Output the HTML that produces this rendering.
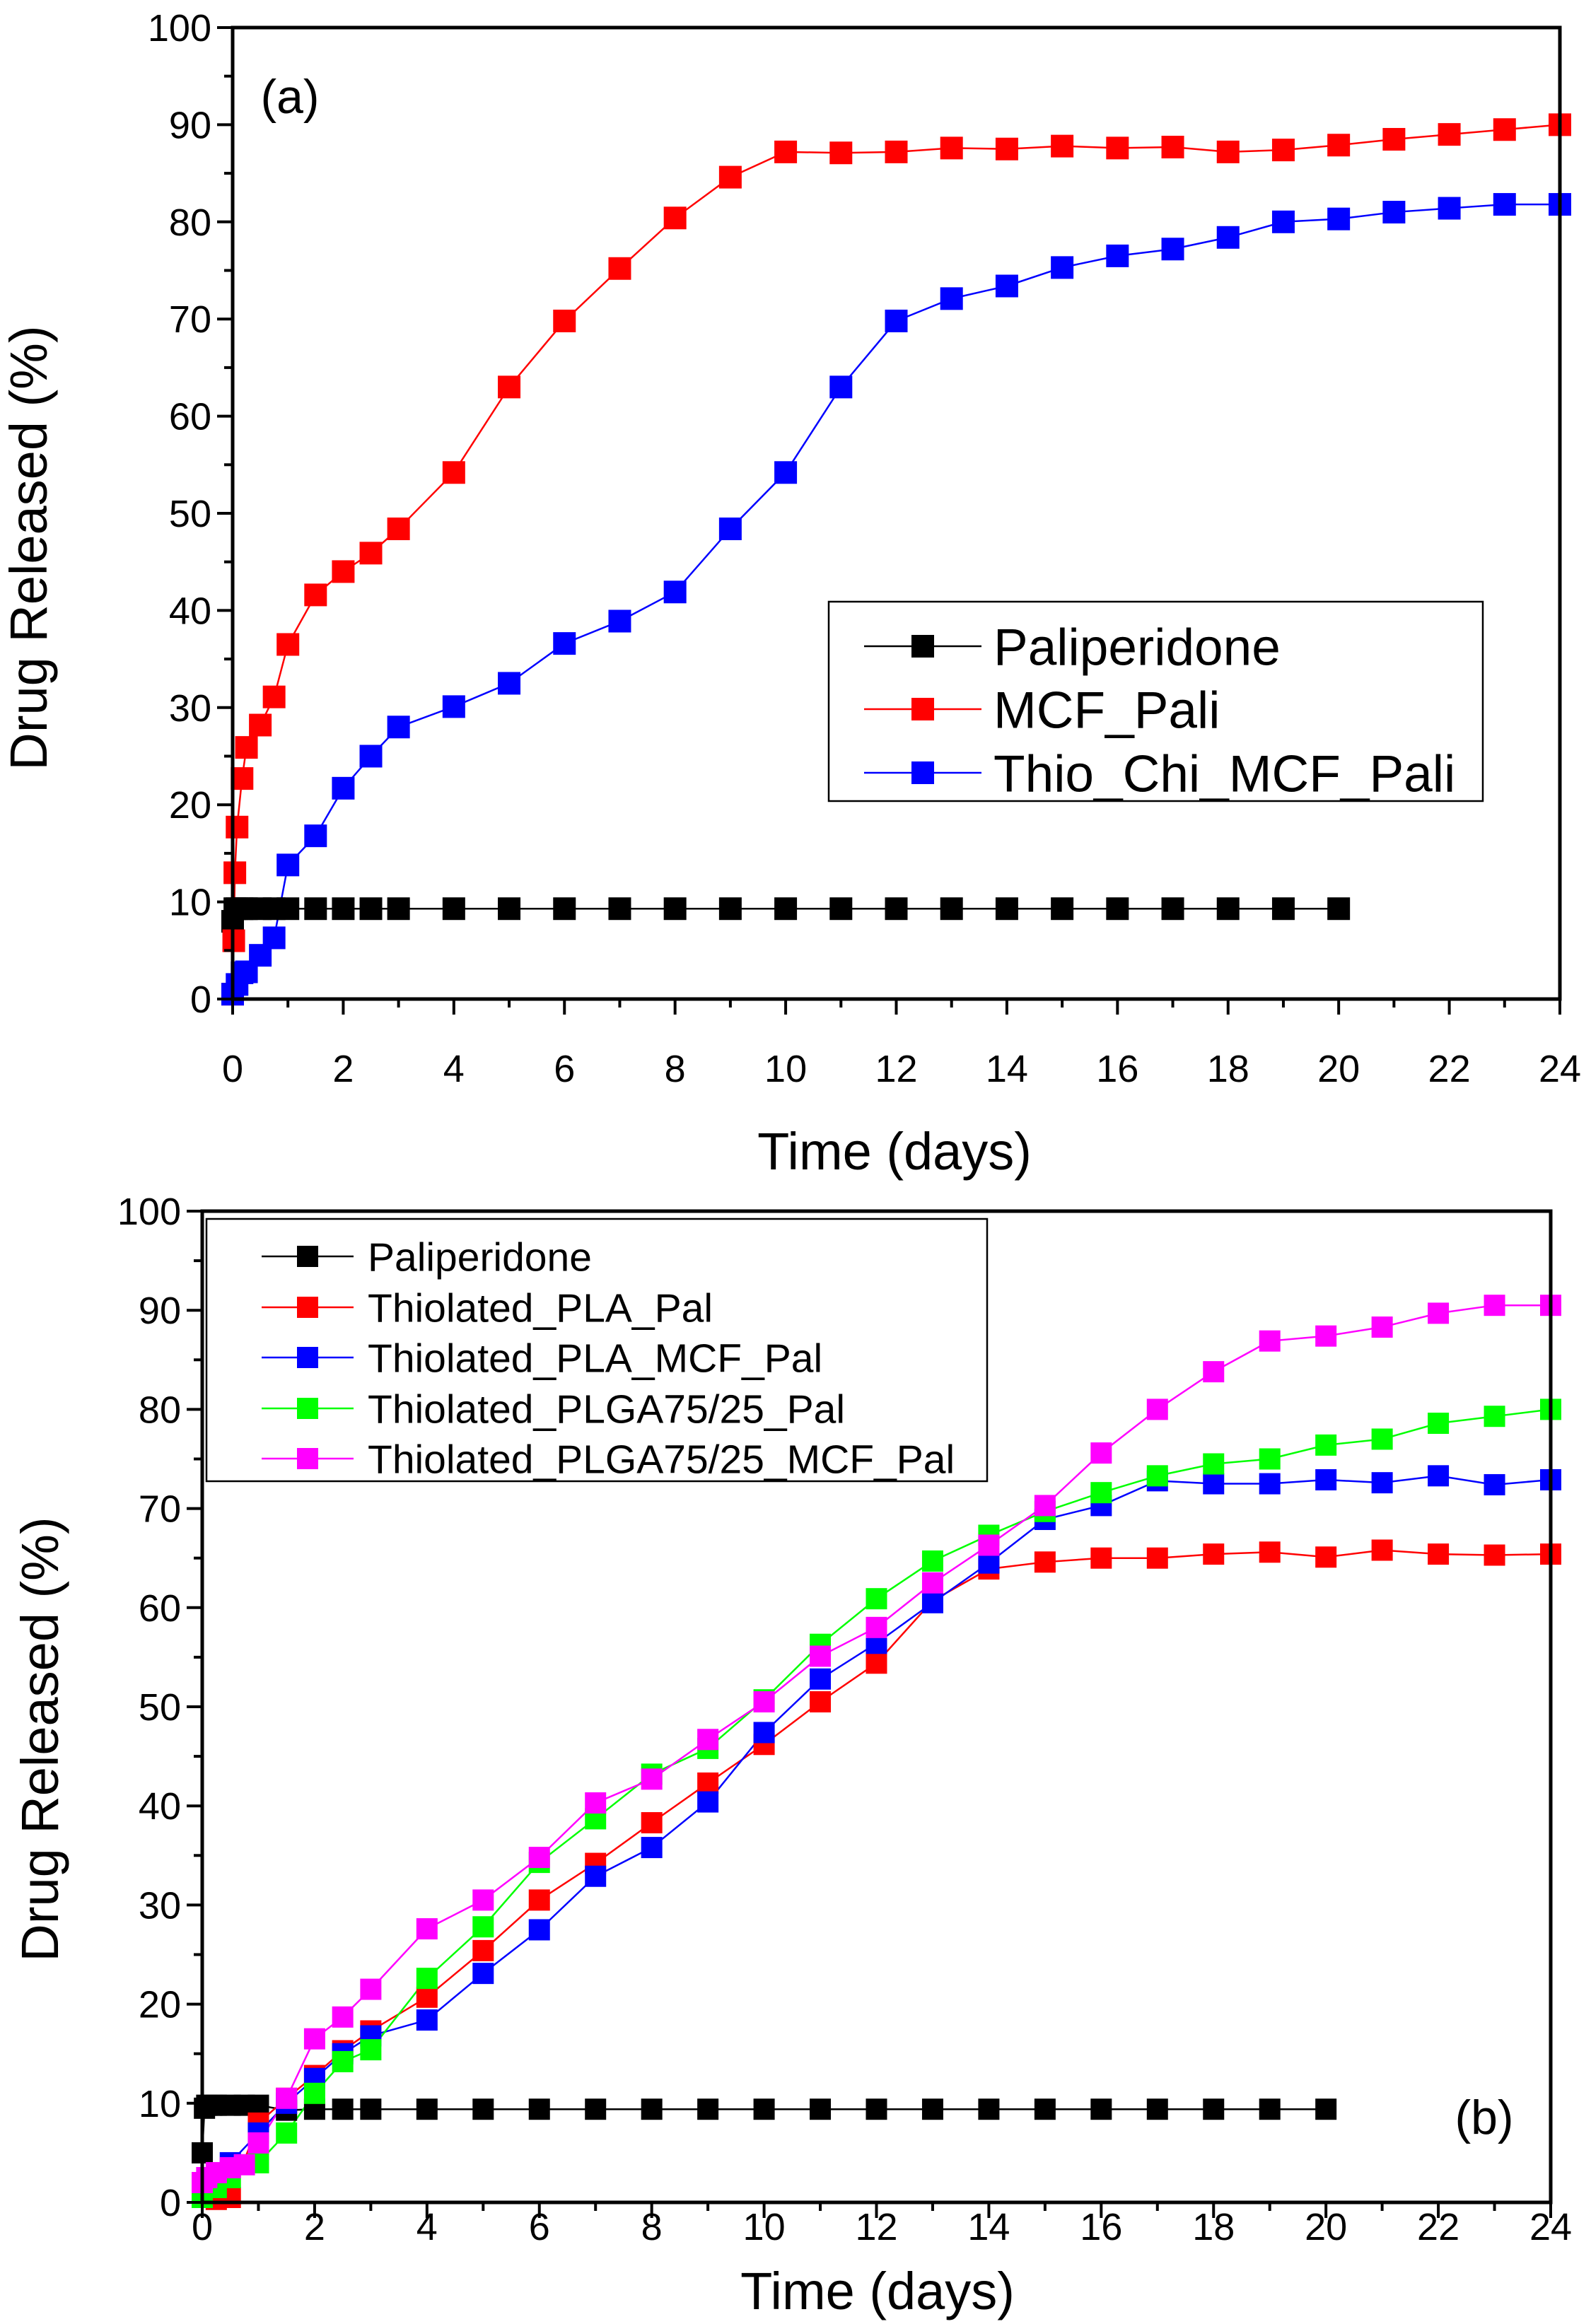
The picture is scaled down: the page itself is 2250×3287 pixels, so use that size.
<!DOCTYPE html>
<html><head><meta charset="utf-8"><style>
html,body{margin:0;padding:0;background:#fff;}
svg{display:block;}
text{font-family:"Liberation Sans",Arial,sans-serif;fill:#000;}
</style></head><body>
<svg id="s" width="2250" height="3287" xmlns="http://www.w3.org/2000/svg"></svg>
<script>
const S=document.getElementById('s');let h='';
function panel(P){
 const X=v=>P.l+(P.r-P.l)*v/24, Y=v=>P.b-(P.b-P.t)*v/100;
 P.series.forEach(s=>{
  h+=`<polyline fill="none" stroke="${s.c}" stroke-width="2.5" points="${s.d.map(p=>X(p[0])+','+Y(p[1])).join(' ')}"/>`;
 });
 P.series.forEach(s=>{
  s.d.forEach(p=>{h+=`<rect x="${X(p[0])-P.m/2}" y="${Y(p[1])-P.m/2}" width="${P.m}" height="${P.m}" fill="${s.c}"/>`;});
 });
 h+=`<rect x="${P.l}" y="${P.t}" width="${P.r-P.l}" height="${P.b-P.t}" fill="none" stroke="#000" stroke-width="5"/>`;
 for(let v=0;v<=100;v+=5){const y=Y(v);const L=v%10==0?22:12;h+=`<line x1="${P.l-L}" x2="${P.l}" y1="${y}" y2="${y}" stroke="#000" stroke-width="4"/>`;
  if(v%10==0)h+=`<text x="${P.l-30}" y="${y+19}" font-size="54" text-anchor="end">${v}</text>`;}
 for(let v=0;v<=24;v+=1){const x=X(v);const L=v%2==0?22:12;h+=`<line x1="${x}" x2="${x}" y1="${P.b}" y2="${P.b+L}" stroke="#000" stroke-width="4"/>`;
  if(v%2==0)h+=`<text x="${x}" y="${P.xly}" font-size="54" text-anchor="middle">${v}</text>`;}
 h+=`<text x="${P.xtx}" y="${P.xty}" font-size="74" text-anchor="middle">Time (days)</text>`;
 h+=`<text transform="translate(${P.ytx},${P.yty}) rotate(-90)" font-size="74" text-anchor="middle">Drug Released (%)</text>`;
 h+=`<text x="${P.lab[0]}" y="${P.lab[1]}" font-size="68" text-anchor="middle">${P.lab[2]}</text>`;
 const G=P.leg;h+=`<rect x="${G.x}" y="${G.y}" width="${G.w}" height="${G.h}" fill="#fff" stroke="#000" stroke-width="2.5"/>`;
 P.series.forEach((s,i)=>{const y=G.ys[i];
  h+=`<line x1="${G.l1}" x2="${G.l2}" y1="${y}" y2="${y}" stroke="${s.c}" stroke-width="2.5"/><rect x="${(G.l1+G.l2)/2-P.m/2}" y="${y-P.m/2}" width="${P.m}" height="${P.m}" fill="${s.c}"/>`;
  h+=`<text x="${G.tx}" y="${y+G.fs*0.36}" font-size="${G.fs}">${s.n}</text>`;});
}
const blackA=[[0,8],[0.04,9.3],[0.08,9.3],[0.17,9.3],[0.25,9.3],[0.5,9.3],[0.75,9.3],[1,9.3],[1.5,9.3],[2,9.3],[2.5,9.3],[3,9.3]];for(let i=4;i<=20;i++)blackA.push([i,9.3]);
panel({l:329,r:2206,t:39,b:1413,m:32,xly:1530,xtx:1265,xty:1654,ytx:66,yty:775,lab:[410,160,'(a)'],
 leg:{x:1172,y:851,w:925,h:282,ys:[914,1003,1093],l1:1222,l2:1388,tx:1405,fs:73},
 series:[
 {n:'Paliperidone',c:'#000',d:blackA},
 {n:'MCF_Pali',c:'#f00',d:[[0,0.5],[0.02,6],[0.04,13],[0.08,17.7],[0.17,22.7],[0.25,25.9],[0.5,28.2],[0.75,31.1],[1,36.5],[1.5,41.6],[2,44],[2.5,45.9],[3,48.4],[4,54.2],[5,63],[6,69.8],[7,75.2],[8,80.4],[9,84.6],[10,87.2],[11,87.1],[12,87.2],[13,87.6],[14,87.5],[15,87.8],[16,87.6],[17,87.7],[18,87.2],[19,87.4],[20,87.9],[21,88.5],[22,89],[23,89.5],[24,90]]},
 {n:'Thio_Chi_MCF_Pali',c:'#00f',d:[[0,0.5],[0.08,1.5],[0.17,2.7],[0.25,2.8],[0.5,4.5],[0.75,6.3],[1,13.8],[1.5,16.8],[2,21.7],[2.5,25],[3,28],[4,30.1],[5,32.5],[6,36.6],[7,38.9],[8,41.9],[9,48.4],[10,54.2],[11,63],[12,69.8],[13,72.1],[14,73.4],[15,75.3],[16,76.5],[17,77.2],[18,78.4],[19,80],[20,80.3],[21,81],[22,81.4],[23,81.8],[24,81.8]]}
 ]});
const blackB=[[0,5],[0.04,9.5],[0.08,9.8],[0.17,9.8],[0.25,9.8],[0.5,9.8],[0.75,9.8],[1,9.8],[1.5,9.3],[2,9.4],[2.5,9.4],[3,9.4]];for(let i=4;i<=20;i++)blackB.push([i,9.4]);
panel({l:286,r:2193,t:1713,b:3115,m:30,xly:3168,xtx:1241,xty:3266,ytx:82,yty:2460,lab:[2099,3018,'(b)'],
 leg:{x:292,y:1724,w:1104,h:371,ys:[1777,1849,1920,1992,2063],l1:370,l2:500,tx:520,fs:57},
 series:[
 {n:'Paliperidone',c:'#000',d:blackB},
 {n:'Thiolated_PLA_Pal',c:'#f00',d:[[0,0.5],[0.25,0.3],[0.5,0.5],[1,8],[1.5,10.5],[2,12.8],[2.5,15.3],[3,17.3],[4,20.7],[5,25.4],[6,30.5],[7,34.2],[8,38.3],[9,42.3],[10,46.2],[11,50.5],[12,54.4],[13,60.7],[14,63.9],[15,64.6],[16,65],[17,65],[18,65.4],[19,65.6],[20,65.1],[21,65.8],[22,65.4],[23,65.3],[24,65.4]]},
 {n:'Thiolated_PLA_MCF_Pal',c:'#00f',d:[[0,1],[0.25,2.5],[0.5,4],[1,7],[1.5,10],[2,12.5],[2.5,15],[3,16.8],[4,18.4],[5,23.1],[6,27.5],[7,32.9],[8,35.8],[9,40.4],[10,47.4],[11,52.8],[12,56.4],[13,60.5],[14,64.5],[15,68.9],[16,70.3],[17,72.8],[18,72.5],[19,72.5],[20,72.9],[21,72.6],[22,73.3],[23,72.4],[24,72.9]]},
 {n:'Thiolated_PLGA75/25_Pal',c:'#0f0',d:[[0,0.5],[0.25,1.5],[0.5,2.5],[1,4],[1.5,7],[2,11],[2.5,14.2],[3,15.4],[4,22.6],[5,27.8],[6,34.3],[7,38.7],[8,43.2],[9,45.8],[10,50.7],[11,56.3],[12,60.9],[13,64.7],[14,67.3],[15,69.7],[16,71.6],[17,73.3],[18,74.5],[19,75],[20,76.4],[21,77],[22,78.6],[23,79.3],[24,80]]},
 {n:'Thiolated_PLGA75/25_MCF_Pal',c:'#f0f',d:[[0,2],[0.08,2.5],[0.25,3],[0.5,3.5],[0.75,3.8],[1,6],[1.5,10.5],[2,16.5],[2.5,18.7],[3,21.5],[4,27.6],[5,30.5],[6,34.8],[7,40.3],[8,42.7],[9,46.7],[10,50.5],[11,55.1],[12,58],[13,62.5],[14,66.3],[15,70.3],[16,75.6],[17,80],[18,83.8],[19,86.9],[20,87.4],[21,88.3],[22,89.7],[23,90.5],[24,90.5]]}
 ]});
S.innerHTML=h;
</script>
</body></html>
